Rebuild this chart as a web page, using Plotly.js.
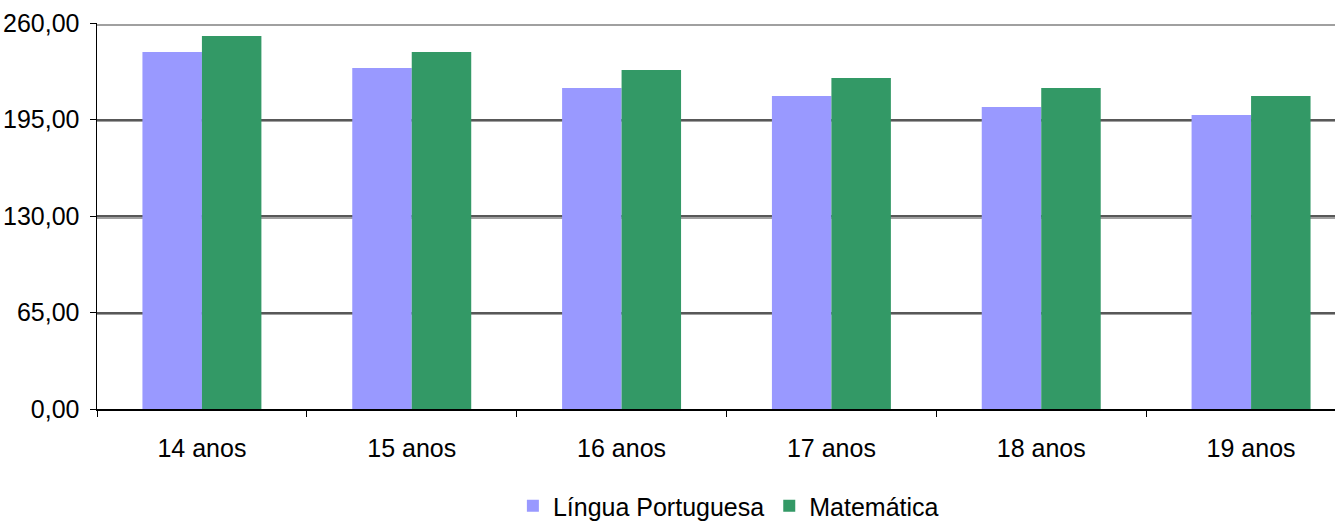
<!DOCTYPE html>
<html>
<head>
<meta charset="utf-8">
<script src="https://cdn.plot.ly/plotly-3.0.1.min.js"></script>
<style>html,body{margin:0;padding:0;background:#fff;}#chart{width:1335px;height:529px;}</style>
</head>
<body>
<div id="chart"></div>
<script>
const categories = ["14 anos", "15 anos", "16 anos", "17 anos", "18 anos", "19 anos"];
const linguaPortuguesa = [240.5, 229.7, 216.2, 210.8, 203.4, 198.0];
const matematica = [251.2, 240.5, 228.3, 222.9, 216.2, 210.8];
const yTickVals = [0, 65, 130, 195, 260];
const yTickText = ["0,00", "65,00", "130,00", "195,00", "260,00"];

const font = {family: "Liberation Sans, Arial, sans-serif", size: 25, color: "#000"};

const traces = [
  {type: "bar", name: "Língua Portuguesa", x: categories, y: linguaPortuguesa,
   marker: {color: "#9999FF", line: {width: 0}}},
  {type: "bar", name: "Matemática", x: categories, y: matematica,
   marker: {color: "#339966", line: {width: 0}}}
];

const layout = {
  width: 1335, height: 529,
  margin: {l: 97, r: 0, t: 23, b: 120, pad: 0},
  paper_bgcolor: "#fff", plot_bgcolor: "#fff",
  font: font,
  barmode: "group", bargap: 0.433, bargroupgap: 0,
  showlegend: true,
  legend: {orientation: "h", x: 0.51, xanchor: "center",
           yref: "container", y: -0.016, yanchor: "bottom",
           font: font, traceorder: "normal", itemwidth: 30},
  xaxis: {type: "category", range: [-0.5, 5.4], showgrid: false,
          showline: true, linecolor: "#000", linewidth: 1.5,
          ticks: "outside", tickson: "boundaries", ticklen: 6, tickcolor: "#000",
          tickfont: font, ticklabelstandoff: 16, zeroline: false},
  yaxis: {range: [0, 260], tickvals: yTickVals, ticktext: yTickText,
          showgrid: true, gridcolor: "#585858", gridwidth: 2,
          showline: true, linecolor: "#000", linewidth: 1.5,
          ticks: "outside", ticklen: 6, tickcolor: "#000",
          tickfont: font, ticklabelstandoff: 5, zeroline: false},
  yaxis2: {overlaying: "y", range: [1.4, 261.4], tickvals: yTickVals.slice(1),
           showgrid: true, gridcolor: "#a0a0a0", gridwidth: 1.2,
           showticklabels: false, ticks: "", showline: false, zeroline: false}
};

traces.push({type: "scatter", x: [categories[0]], y: [null], yaxis: "y2",
             showlegend: false, hoverinfo: "skip", mode: "lines"});

Plotly.newPlot("chart", traces, layout, {displayModeBar: false, staticPlot: true});
</script>
</body>
</html>
